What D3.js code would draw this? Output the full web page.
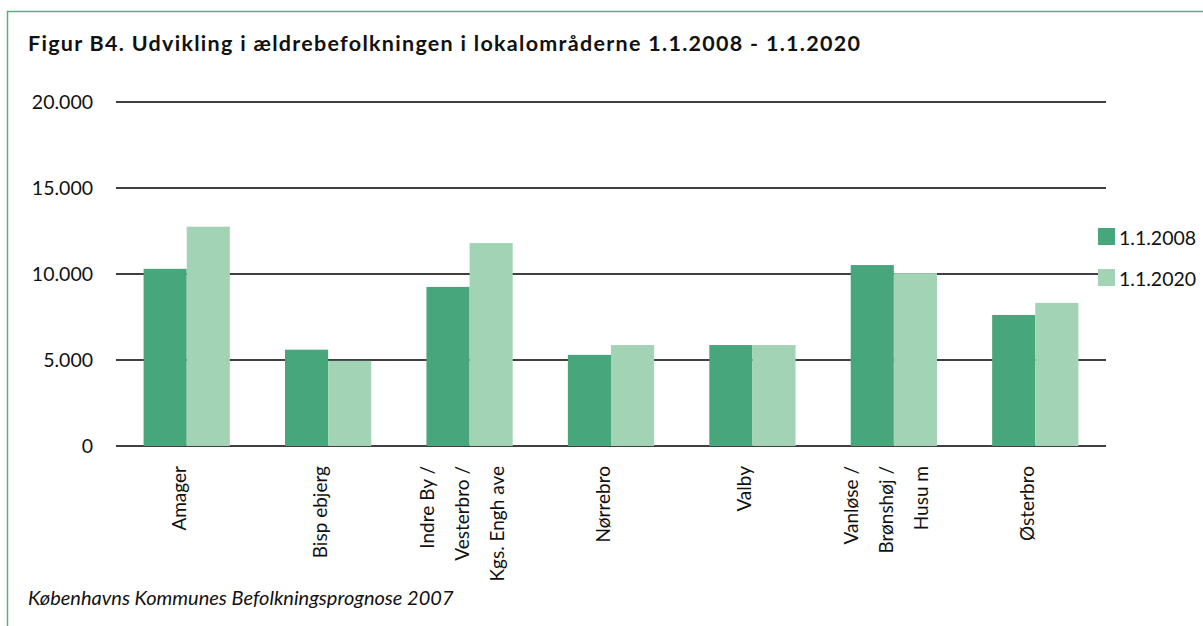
<!DOCTYPE html>
<html>
<head>
<meta charset="utf-8">
<script src="https://cdn.jsdelivr.net/npm/d3@7"></script>
<style>
  body { margin: 0; background: #fff; }
  svg text { font-family: Lato, "Open Sans", sans-serif; fill: #111; }
</style>
</head>
<body>
<svg id="chart" width="1203" height="626"></svg>
<script>
// data
const areas = [
  ["Amager"],
  ["Bisp ebjerg"],
  ["Indre By /", "Vesterbro /", "Kgs. Engh ave"],
  ["Nørrebro"],
  ["Valby"],
  ["Vanløse /", "Brønshøj /", "Husu m"],
  ["Østerbro"]
];
const seriesNames = ["1.1.2008", "1.1.2020"];
const v2008 = [10300, 5600, 9250, 5300, 5870, 10520, 7620];
const v2020 = [12750, 4950, 11800, 5870, 5870, 10050, 8320];
const yTicks = [0, 5000, 10000, 15000, 20000];
const colors = ["#47a67c", "#a3d3b5"];

const svg = d3.select("#chart");

// ramme (kun venstre + top synlig)
svg.append("rect")
  .attr("x", 7.5).attr("y", 11.5)
  .attr("width", 1260).attr("height", 640)
  .attr("fill", "none").attr("stroke", "#5aae85").attr("stroke-width", 1.5);

svg.append("text")
  .attr("x", 28).attr("y", 51)
  .attr("font-size", 21.5).attr("font-weight", "bold")
  .attr("textLength", 832).attr("lengthAdjust", "spacing")
  .text("Figur B4. Udvikling i ældrebefolkningen i lokalområderne 1.1.2008 - 1.1.2020");

const pl = 116, pr = 1106, pt = 102, pb = 446;

const x = d3.scaleBand()
  .domain(d3.range(areas.length))
  .range([pl, pr])
  .paddingInner(0.39).paddingOuter(0.195);
const xs = d3.scaleBand().domain([0, 1]).range([0, x.bandwidth()]);
const y = d3.scaleLinear().domain([0, 20000]).range([pb, pt]);

const fmt = d => d3.format(",")(d).replace(/,/g, ".");

// gitterlinjer
const grid = svg.append("g");
grid.selectAll("line").data(yTicks).join("line")
  .attr("x1", pl).attr("x2", pr)
  .attr("y1", d => y(d)).attr("y2", d => y(d))
  .attr("stroke", "#000").attr("stroke-width", 1.6);
grid.selectAll("text").data(yTicks).join("text")
  .attr("x", 93).attr("y", d => y(d) + 7)
  .attr("text-anchor", "end").attr("font-size", 19.5)
  .text(fmt);

// søjler
const series = [v2008, v2020];
series.forEach((vals, s) => {
  svg.append("g").selectAll("rect").data(vals).join("rect")
    .attr("x", (d, i) => x(i) + xs(s))
    .attr("width", xs.bandwidth())
    .attr("y", d => y(d))
    .attr("height", d => y(0) - y(d))
    .attr("fill", colors[s]);
});

// x-labels
const lab = svg.append("g");
areas.forEach((lines, i) => {
  const cx = x(i) + x.bandwidth() / 2;
  lines.forEach((t, j) => {
    const off = (j - (lines.length - 1) / 2) * 35;
    lab.append("text")
      .attr("transform", `translate(${cx + off - 1},466) rotate(-90)`)
      .attr("text-anchor", "end")
      .attr("font-size", 19)
      .text(t);
  });
});

// legend
seriesNames.forEach((n, s) => {
  const ly = 228 + s * 41;
  svg.append("rect").attr("x", 1098).attr("y", ly)
    .attr("width", 17).attr("height", 17).attr("fill", colors[s]);
  svg.append("text").attr("x", 1119).attr("y", ly + 17)
    .attr("font-size", 19.5).text(n);
});

svg.append("text")
  .attr("x", 28).attr("y", 605)
  .attr("font-size", 20).attr("font-style", "italic")
  .text("Københavns Kommunes Befolkningsprognose 2007");
</script>
</body>
</html>
